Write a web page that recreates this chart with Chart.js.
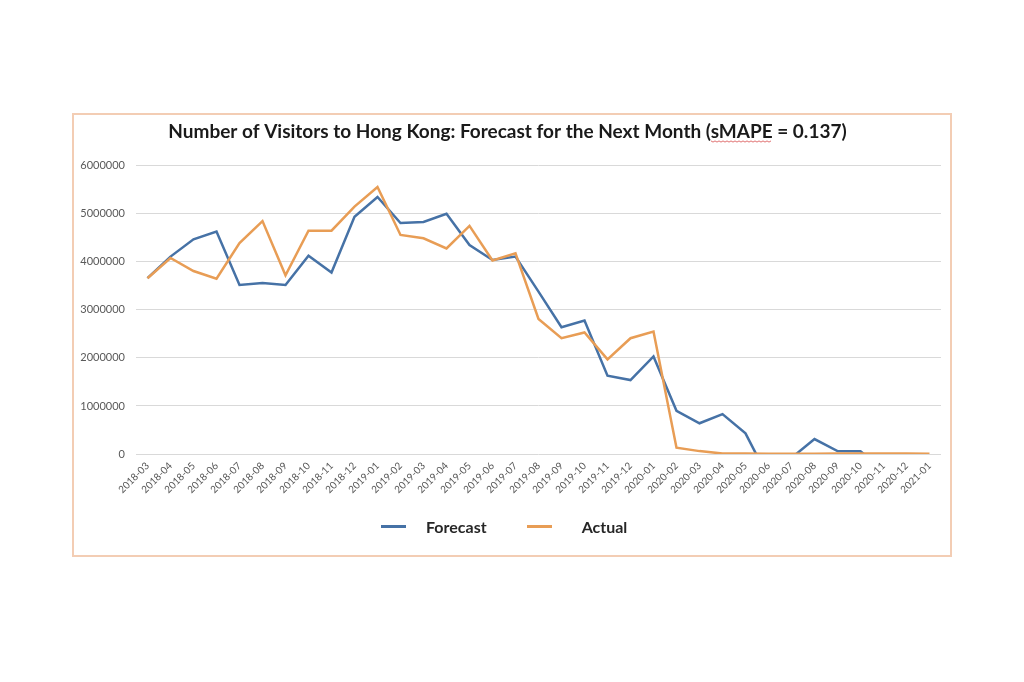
<!DOCTYPE html>
<html>
<head>
<meta charset="utf-8">
<script src="https://cdn.jsdelivr.net/npm/chart.js@4.4.1/dist/chart.umd.min.js"></script>
<style>
  html, body { margin: 0; padding: 0; background: #fff; }
  body { width: 1024px; height: 682px; position: relative; overflow: hidden; font-family: Lato, "Open Sans", sans-serif; }
  #frame { position: absolute; left: 72px; top: 113px; width: 880px; height: 444px; box-sizing: border-box; border: 2px solid #f3cdb4; }
  #frame canvas { display: block; }
  #legend { position: absolute; left: 381px; top: 515px; height: 22px; display: flex; align-items: center; font: bold 16px Lato, sans-serif; color: #262626; }
  .item { display: flex; align-items: center; margin-right: 40px; }
  .swatch { width: 25px; height: 3px; margin-right: 20px; }
  .item + .item .swatch { margin-right: 30px; }
</style>
</head>
<body>
<div id="frame"><canvas id="visitorsChart" width="876" height="440"></canvas></div>
<div id="legend"></div>
<script>
const chartTitle = 'Number of Visitors to Hong Kong: Forecast for the Next Month (sMAPE = 0.137)';

const months = [
    '2018-03', '2018-04', '2018-05', '2018-06', '2018-07', '2018-08', '2018-09', '2018-10', '2018-11', '2018-12',
    '2019-01', '2019-02', '2019-03', '2019-04', '2019-05', '2019-06', '2019-07', '2019-08', '2019-09', '2019-10', '2019-11', '2019-12',
    '2020-01', '2020-02', '2020-03', '2020-04', '2020-05', '2020-06', '2020-07', '2020-08', '2020-09', '2020-10', '2020-11', '2020-12',
    '2021-01'
];

// forecast goes below zero late in 2020; the axis stops at 0 so those parts are clipped
const forecast = [
    3660000, 4110000, 4470000, 4630000, 3520000, 3560000, 3520000, 4130000, 3780000, 4940000,
    5350000, 4810000, 4830000, 5000000, 4350000, 4040000, 4110000, 3380000, 2640000, 2780000, 1630000, 1540000,
    2030000, 900000, 640000, 830000, 430000, -500000, -80000, 310000, 60000, 55000, -330000, -300000,
    -250000
];

const actual = [
    3660000, 4080000, 3810000, 3650000, 4390000, 4850000, 3720000, 4650000, 4650000, 5150000,
    5560000, 4560000, 4490000, 4280000, 4750000, 4030000, 4180000, 2810000, 2410000, 2530000, 1970000, 2410000,
    2550000, 130000, 60000, 10000, 9000, 5000, 7000, 4000, 8000, 9000, 13000, 9000,
    4000
];

const yTicks = [0, 1000000, 2000000, 3000000, 4000000, 5000000, 6000000];

const FONT = 'Lato, "Open Sans", sans-serif';

// red spell-check squiggle under "sMAPE" like in the source screenshot
const squiggle = {
    id: 'squiggle',
    afterDraw(chart) {
        const t = chart.titleBlock;
        if (!t) return;
        const ctx = chart.ctx;
        const f = Chart.helpers.toFont(t.options.font);
        ctx.save();
        ctx.font = f.string;
        const full = ctx.measureText(chartTitle).width;
        const idx = chartTitle.indexOf('sMAPE');
        const start = (t.left + t.right) / 2 - full / 2 + ctx.measureText(chartTitle.slice(0, idx)).width;
        const w = ctx.measureText('sMAPE').width;
        const y = t.top + t.options.padding.top + f.lineHeight / 2 + f.size * 0.5;
        ctx.strokeStyle = '#e07070';
        ctx.lineWidth = 1;
        ctx.beginPath();
        for (let x = 0; x <= w; x += 2) {
            const yy = y + ((x / 2) % 2 ? 1.2 : 0);
            if (x === 0) ctx.moveTo(start + x, yy); else ctx.lineTo(start + x, yy);
        }
        ctx.stroke();
        ctx.restore();
    }
};

const ctx = document.getElementById('visitorsChart').getContext('2d');
const visitorsChart = new Chart(ctx, {
    type: 'line',
    data: {
        labels: months,
        datasets: [
            { label: 'Forecast', data: forecast, borderColor: '#4672a6', backgroundColor: '#4672a6', order: 1 },
            { label: 'Actual', data: actual, borderColor: '#e89d55', backgroundColor: '#e89d55', order: 0 }
        ]
    },
    options: {
        responsive: false,
        animation: false,
        layout: { padding: { left: 0, right: 9, top: 0, bottom: 41 } },
        elements: {
            point: { radius: 0 },
            line: { borderWidth: 2.5, tension: 0 }
        },
        plugins: {
            legend: { display: false },
            tooltip: { enabled: false },
            title: {
                display: true,
                text: chartTitle,
                color: '#1a1a1a',
                font: { family: FONT, size: 19, weight: 'bold' },
                padding: { top: 5, bottom: 23 }
            }
        },
        scales: {
            x: {
                offset: true,
                grid: { display: false, drawTicks: false },
                border: { display: false },
                ticks: {
                    autoSkip: false, minRotation: 45, maxRotation: 45, padding: 6,
                    color: '#555555', font: { family: FONT, size: 10 }
                },
                afterFit: s => { s.height = 60; }
            },
            y: {
                min: 0,
                max: 6000000,
                afterBuildTicks: s => { s.ticks = yTicks.map(v => ({ value: v })); },
                grid: { color: '#d9d9d9', lineWidth: 1, drawTicks: false },
                border: { display: false },
                ticks: {
                    padding: 11, color: '#595959', font: { family: FONT, size: 11 },
                    callback: v => String(v)
                },
                afterFit: s => { s.width = 62; }
            }
        }
    },
    plugins: [squiggle]
});

// legend as html, from the chart's own datasets
const legendBox = document.getElementById('legend');
visitorsChart.data.datasets.forEach(ds => {
    const item = document.createElement('div');
    item.className = 'item';
    item.innerHTML = `<span class="swatch" style="background:${ds.borderColor}"></span><span>${ds.label}</span>`;
    legendBox.appendChild(item);
});
</script>
</body>
</html>
